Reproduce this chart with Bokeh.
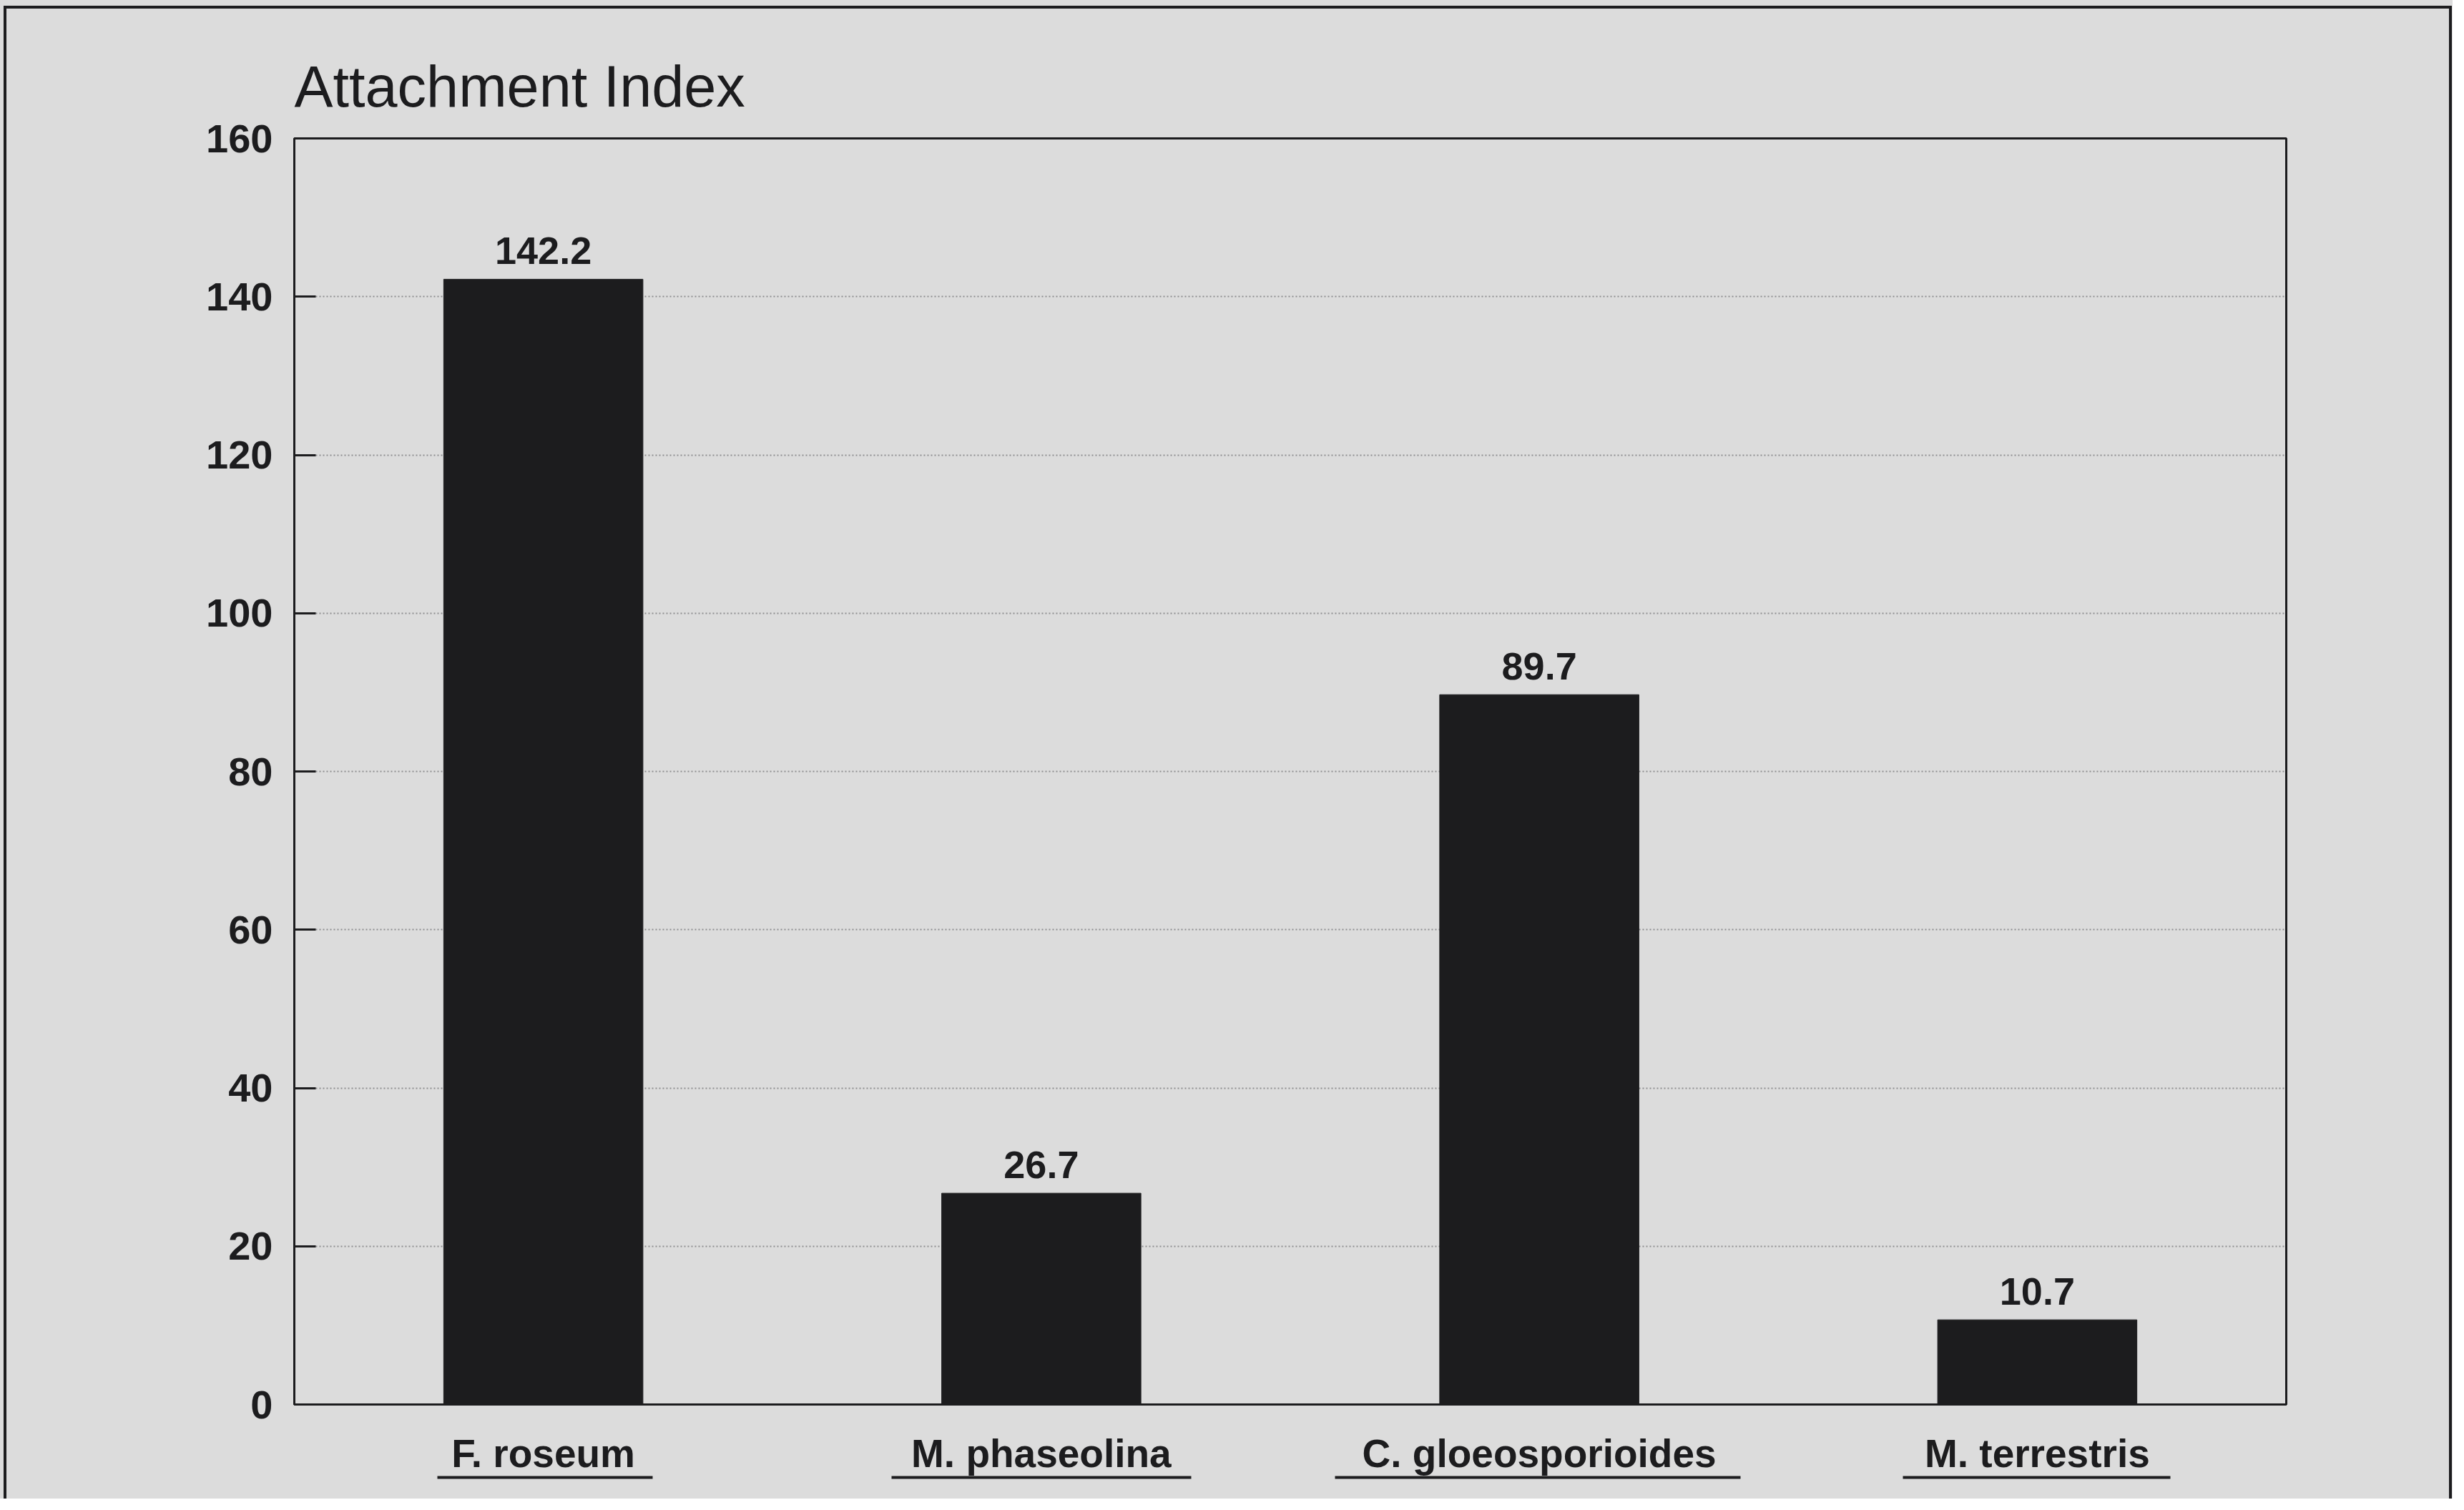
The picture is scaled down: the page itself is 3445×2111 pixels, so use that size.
from bokeh.plotting import figure
from bokeh.models import Range1d, FixedTicker, LinearAxis, ColumnDataSource
from bokeh.transform import dodge
from bokeh.core.properties import value
from bokeh.embed import file_html
from bokeh.resources import INLINE

# ---- data ----
species = ["F. roseum", "M. phaseolina", "C. gloeosporioides", "M. terrestris"]
attachment = [142.2, 26.7, 89.7, 10.7]
value_labels = ["142.2", "26.7", "89.7", "10.7"]
y_ticks = [0, 20, 40, 60, 80, 100, 120, 140, 160]
title_text = "Attachment Index"

# ---- style ----
BG = "#dcdcdc"
INK = "#1c1c1e"
FONT = "Liberation Sans"

xpos = list(range(len(species)))
src = ColumnDataSource(dict(x=xpos, top=attachment, label=value_labels))

p = figure(
    width=3429, height=2095,
    x_range=Range1d(-0.5, len(species) - 0.5),
    y_range=Range1d(0, 160),
    output_backend="svg", toolbar_location=None,
    min_border_left=411, min_border_right=233,
    min_border_top=193, min_border_bottom=132,
)
p.background_fill_color = BG
p.border_fill_color = None
p.outline_line_color = INK
p.outline_line_width = 3

# page-like outer frame (left, top and right rules) drawn as host background
p.stylesheets = [
    ":host { background-color: %s;"
    " background-image: linear-gradient(%s,%s), linear-gradient(%s,%s), linear-gradient(%s,%s);"
    " background-size: 4px 100%%, 3423px 4px, 4px 100%%;"
    " background-position: 5px 8px, 5px 8px, 3424px 8px;"
    " background-repeat: no-repeat; }" % (BG, INK, INK, INK, INK, INK, INK)
]

p.title.text = title_text
p.title.text_font = FONT
p.title.text_font_size = "81px"
p.title.text_font_style = "normal"
p.title.text_color = INK
p.title.align = "left"
p.title.standoff = 55

p.vbar(x="x", top="top", source=src, width=0.4, fill_color=INK, line_color=INK)

p.text(x="x", y=dodge("top", 3.6, range=p.y_range), text="label", source=src,
       text_align="center", text_baseline="alphabetic",
       text_font=value(FONT), text_font_size="54px", text_font_style="bold",
       text_color=INK)

# y axis
ya = p.yaxis[0]
ya.ticker = FixedTicker(ticks=y_ticks)
ya.major_label_text_font = FONT
ya.major_label_text_font_size = "56px"
ya.major_label_text_font_style = "bold"
ya.major_label_text_color = INK
ya.major_label_standoff = 30
ya.major_tick_in = 30
ya.major_tick_out = 0
ya.major_tick_line_color = INK
ya.major_tick_line_width = 3
ya.minor_tick_line_color = None
ya.axis_line_color = INK
ya.axis_line_width = 3

# x axis (species names)
xa = p.xaxis[0]
xa.ticker = FixedTicker(ticks=xpos)
xa.major_label_overrides = {i: s for i, s in zip(xpos, species)}
xa.major_label_text_font = FONT
xa.major_label_text_font_size = "55px"
xa.major_label_text_font_style = "bold"
xa.major_label_text_color = INK
xa.major_label_standoff = 37
xa.major_tick_in = 0
xa.major_tick_out = 0
xa.minor_tick_line_color = None
xa.axis_line_color = INK
xa.axis_line_width = 3

# grid
p.xgrid.grid_line_color = None
p.ygrid.ticker = FixedTicker(ticks=y_ticks)
p.ygrid.grid_line_color = "#8e8e90"
p.ygrid.grid_line_width = 2
p.ygrid.grid_line_dash = "2 3"

# underlines under the species names (one axis line with a dash pattern)
ul = LinearAxis(ticker=FixedTicker(ticks=[]), bounds=(-0.213, 3.267))
ul.axis_line_color = INK
ul.axis_line_width = 4
ul.axis_line_dash = "301 334 419 201 567 227 374 1000"
ul.major_tick_line_color = None
ul.minor_tick_line_color = None
ul.major_label_text_font_size = "0px"
p.add_layout(ul, "below")

open("out.html", "w").write(file_html(p, INLINE))
